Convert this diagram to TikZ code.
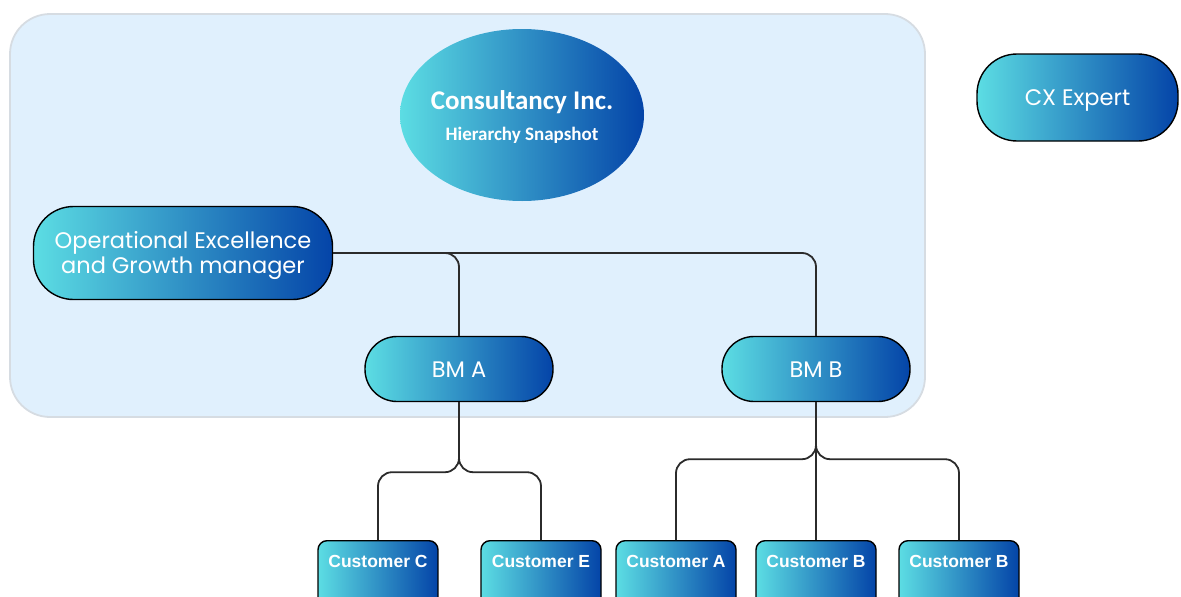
\documentclass[tikz,border=0pt]{standalone}
\usepackage{fontspec}
\usepackage{tikz}
\usetikzlibrary{shapes.geometric, positioning, calc}

\newfontfamily\pillfont{Poppins}
\newfontfamily\headfont{Carlito}
\newfontfamily\custfont{Liberation Sans}

\definecolor{gradL}{HTML}{5CDDE3}
\definecolor{gradR}{HTML}{0444A8}
\definecolor{panel}{HTML}{E0F0FD}
\definecolor{panelEdge}{HTML}{D6DCE2}
\definecolor{wire}{HTML}{2B2B2B}

\begin{document}
\begin{tikzpicture}[x=1pt, y=-1pt,
  grad/.style={left color=gradL, right color=gradR, text=white},
  pill/.style={grad, draw=black, line width=1.4pt, rounded corners=#1,
    inner sep=0pt, align=center, text height=16pt, text depth=0pt,
    font=\pillfont\fontsize{22.5}{25}\selectfont},
  pill/.default=40pt,
  custbox/.style={grad, draw=black, line width=1.4pt, rounded corners=9pt,
    anchor=north, minimum width=120pt, inner xsep=0pt, inner ysep=10pt,
    text height=17pt, text depth=60pt,
    font=\custfont\bfseries\fontsize{17.5}{20}\selectfont},
  link/.style={draw=wire, line width=1.8pt, rounded corners=14pt}]

  % page frame in pixels
  \path[use as bounding box] (0,0) rectangle (1181,597);
  \clip (0,0) rectangle (1181,597);

  % x positions of the customer column
  \def\xCustC{378}
  \def\xCustE{541}
  \def\xCustA{676}
  \def\xCustB{816}
  \def\xCustBB{959}

  % Management panel
  \draw[fill=panel, draw=panelEdge, line width=1.8pt, rounded corners=40pt]
    (10,14) rectangle (925,417);

  % Title
  \node[ellipse, grad, minimum width=244pt, minimum height=172pt, inner sep=0pt]
        (title) at (522,115) {};
  \node[align=center, text=white, inner sep=0pt] (titletext)
        at ($(title.center)+(0,2)$)
        {{\headfont\bfseries\fontsize{27}{30}\selectfont Consultancy Inc.}\\[12pt]
         {\headfont\bfseries\fontsize{19}{21}\selectfont Hierarchy Snapshot}};

  % Managers
  \node[pill, minimum width=299pt, minimum height=93pt, text height=41pt] (opex)
        at (183,253) {Operational Excellence\\and Growth manager};
  \node[pill, minimum width=201pt, minimum height=87pt] (cx) at (1077.5,97.5)
        {CX Expert};
  \node[pill=32pt, minimum width=188pt, minimum height=65pt] (bma) at (459,369) {BM A};
  \node[pill=32pt, minimum width=188pt, minimum height=65pt] (bmb) at (816,369) {BM B};

  % Customers
  \node[custbox] (custC) at (\xCustC,540) {Customer C};
  \node[custbox] (custE) at (\xCustE,540) {Customer E};
  \node[custbox] (custA) at (\xCustA,540) {Customer A};
  \node[custbox] (custB) at (\xCustB,540) {Customer B};
  \node[custbox] (custBB) at (\xCustBB,540) {Customer B};

  % OpEx manager to branch managers
  \draw[link] (opex.east) -| (bma.north);
  \draw[link] (opex.east) -| (bmb.north);

  % BM A split
  \draw[link] (bma.south) -- ++(0,70) -| (custC.north);
  \draw[link] (bma.south) -- ++(0,70) -| (custE.north);

  % BM B split
  \draw[link] (bmb.south) -- ++(0,57) -| (custA.north);
  \draw[link] (bmb.south) -- (custB.north);
  \draw[link] (bmb.south) -- ++(0,57) -| (custBB.north);

\end{tikzpicture}
\end{document}
